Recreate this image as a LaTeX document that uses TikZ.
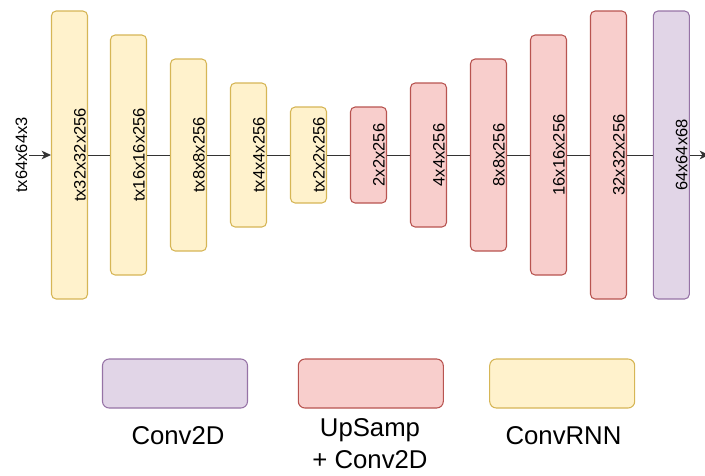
\documentclass[tikz,border=0pt]{standalone}
\usepackage{fontspec}
\setmainfont{Liberation Sans}
\usetikzlibrary{arrows.meta}
\definecolor{yfill}{HTML}{FFF2CC}\definecolor{ydraw}{HTML}{D6B656}
\definecolor{rfill}{HTML}{F8CECC}\definecolor{rdraw}{HTML}{B85450}
\definecolor{pfill}{HTML}{E1D5E7}\definecolor{pdraw}{HTML}{9673A6}
\begin{document}
\begin{tikzpicture}[x=0.75pt,y=-0.75pt,
  box/.style={rounded corners=3.5pt, line width=0.8pt, minimum width=27pt, inner sep=0pt},
  ybox/.style={box, fill=yfill, draw=ydraw},
  rbox/.style={box, fill=rfill, draw=rdraw},
  pbox/.style={box, fill=pfill, draw=pdraw},
  legbox/.style={minimum width=108.75pt, minimum height=36.75pt, rounded corners=5pt},
  lbl/.style={font=\fontsize{12.4pt}{14pt}\selectfont, rotate=90, anchor=base, inner sep=0pt},
  link/.style={draw=black!80, line width=0.75pt},
  tip/.style={-{Stealth[length=7pt,width=6.5pt,inset=2pt]}},
  legtxt/.style={font=\fontsize{19.3pt}{24.2pt}\selectfont, align=center, inner sep=0pt}
]
\useasboundingbox (0,0) rectangle (705,475);

% encoder (ConvRNN)
\node[ybox, minimum height=216pt] (y1) at (69.5,155) {};
\node[ybox, minimum height=180pt] (y2) at (128.5,155) {};
\node[ybox, minimum height=144pt] (y3) at (188.5,155) {};
\node[ybox, minimum height=108pt] (y4) at (248.5,155) {};
\node[ybox, minimum height=72pt]  (y5) at (308.5,155) {};
% decoder (UpSamp + Conv2D)
\node[rbox, minimum height=72pt]  (r1) at (368.5,155) {};
\node[rbox, minimum height=108pt] (r2) at (428.5,155) {};
\node[rbox, minimum height=144pt] (r3) at (488.5,155) {};
\node[rbox, minimum height=180pt] (r4) at (548.5,155) {};
\node[rbox, minimum height=216pt] (r5) at (608.5,155) {};
% output Conv2D
\node[pbox, minimum height=216pt] (p1) at (671.3,155) {};

% labels
\node[lbl] (y1t) at ([xshift=-1.9pt]y1.east) {tx32x32x256};
\node[lbl] (y2t) at ([xshift=-1.9pt]y2.east) {tx16x16x256};
\node[lbl] (y3t) at ([xshift=-1.9pt]y3.east) {tx8x8x256};
\node[lbl] (y4t) at ([xshift=-1.9pt]y4.east) {tx4x4x256};
\node[lbl] (y5t) at ([xshift=-1.9pt]y5.east) {tx2x2x256};
\node[lbl] (r1t) at ([xshift=-1.9pt]r1.east) {2x2x256};
\node[lbl] (r2t) at ([xshift=-1.9pt]r2.east) {4x4x256};
\node[lbl] (r3t) at ([xshift=-1.9pt]r3.east) {8x8x256};
\node[lbl] (r4t) at ([xshift=-1.9pt]r4.east) {16x16x256};
\node[lbl] (r5t) at ([xshift=-1.9pt]r5.east) {32x32x256};
\node[lbl] (p1t) at ([xshift=-1.9pt]p1.east) {64x64x68};

% input / output
\node[lbl] (in) at (27,155) {tx64x64x3};
\coordinate (out) at (709,155);

% connectors
\draw[link, tip, shorten <=1.2pt] (in) -- (y1);
\draw[link] (y1) -- (y2);
\draw[link] (y2) -- (y3);
\draw[link] (y3) -- (y4);
\draw[link] (y4) -- (y5);
\draw[link] (y5) -- (r1);
\draw[link] (r1) -- (r2);
\draw[link] (r2) -- (r3);
\draw[link] (r3) -- (r4);
\draw[link] (r4) -- (r5);
\draw[link] (r5) -- (p1);
\draw[link, tip] (p1) -- (out);

% legend
\node[pbox, legbox] (lp) at (175,383.5) {};
\node[rbox, legbox] (lr) at (370.8,383.5) {};
\node[ybox, legbox] (ly) at (562.2,383.5) {};
\node[legtxt] (lpt) at (178,436) {Conv2D};
\node[legtxt] (lrt) at (370,443.7) {UpSamp\\+ Conv2D};
\node[legtxt] (lyt) at (563.5,436) {ConvRNN};
\end{tikzpicture}
\end{document}
